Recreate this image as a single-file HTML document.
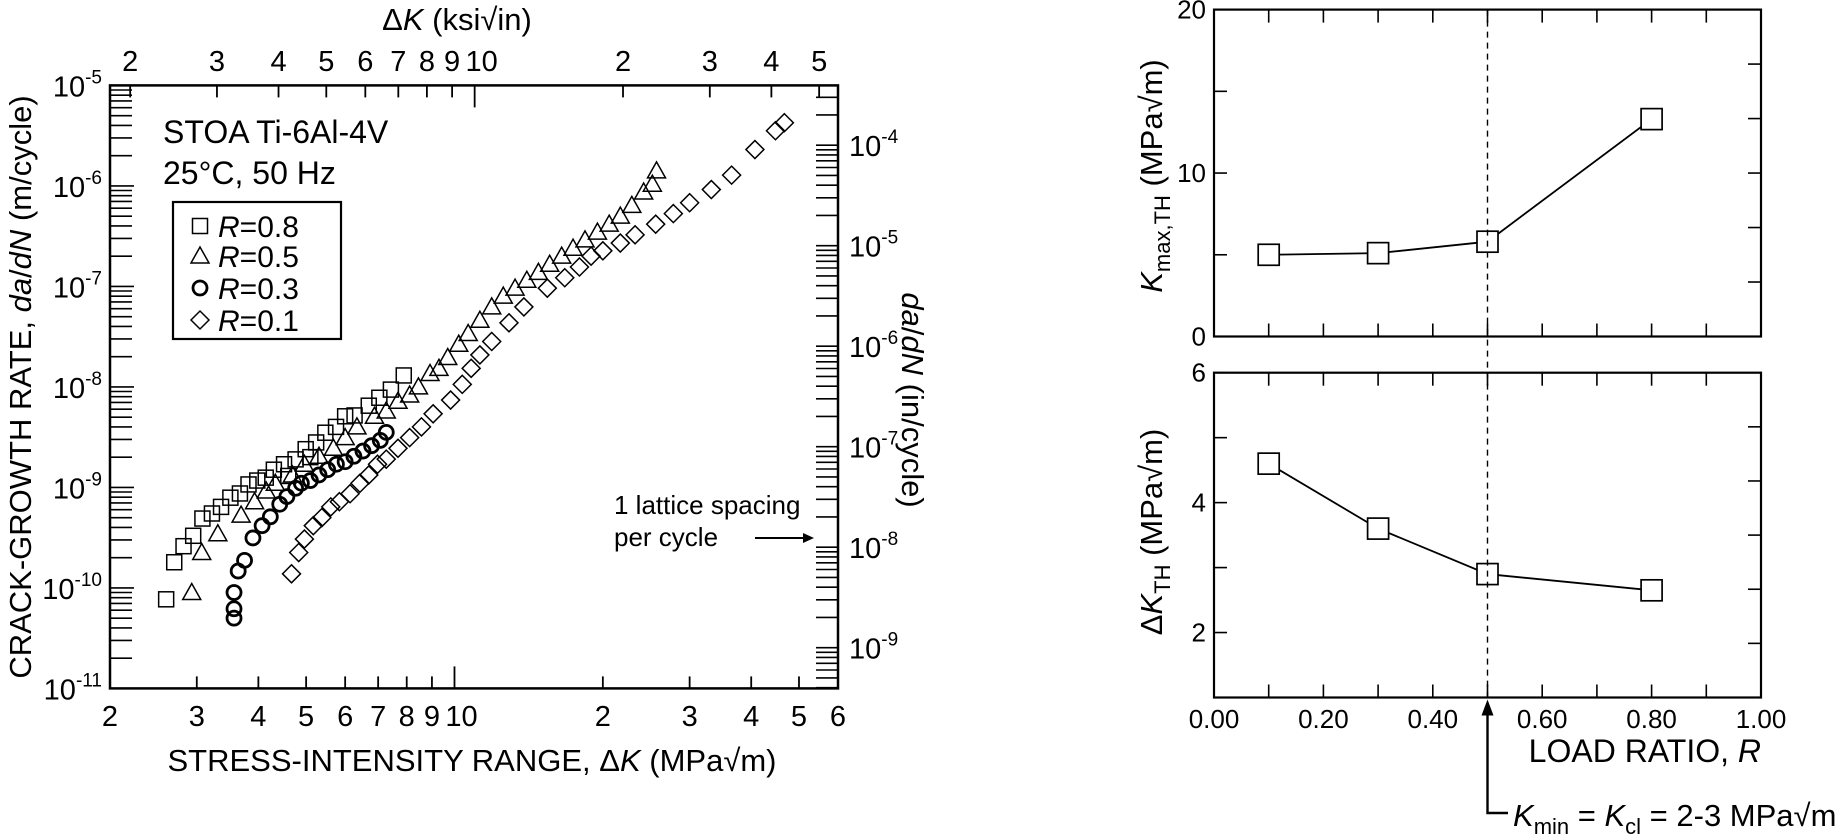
<!DOCTYPE html>
<html><head><meta charset="utf-8"><style>
html,body{margin:0;padding:0;background:#fff;}
svg{display:block;font-family:"Liberation Sans",Arial,sans-serif;}
</style></head><body>
<svg id="fig" width="1836" height="835" viewBox="0 0 1836 835" xmlns="http://www.w3.org/2000/svg"></svg>
<script>
// ---- left chart data (ΔK in MPa√m, da/dN in m/cycle) ----
const sqK=[2.6,2.7,2.82,2.95,3.08,3.22,3.36,3.51,3.67,3.82,3.98,4.14,4.3,4.51,4.6,4.76,4.99,5.1,5.24,5.47,5.75,6.0,6.27,6.7,7.04,7.43,7.89];
const sqDa=[7.7e-11,1.8e-10,2.6e-10,3.3e-10,4.9e-10,5.5e-10,6.4e-10,7.9e-10,8.7e-10,1.07e-9,1.17e-9,1.25e-9,1.5e-9,1.7e-9,1.3e-9,1.9e-9,2.4e-9,2.0e-9,2.8e-9,3.5e-9,4.0e-9,5.1e-9,5.2e-9,6.5e-9,7.8e-9,9.4e-9,1.3e-8];
const triK=[2.93,3.07,3.31,3.69,3.93,4.15,4.33,4.69,4.96,5.31,5.68,6.0,6.34,6.88,7.27,7.68,8.11,8.45,8.92,9.3,9.69,10.2,10.66,11.26,11.9,12.56,13.27,14.02,14.8,15.6,16.5,17.4,18.4,19.5,20.6,21.7,22.9,24.2,25.2,25.7];
const triDa=[9.0e-11,2.25e-10,3.46e-10,5.3e-10,7.2e-10,9.2e-10,1.1e-9,1.33e-9,1.7e-9,2.04e-9,2.45e-9,3.13e-9,4.0e-9,5.1e-9,5.75e-9,7.2e-9,8.3e-9,1.0e-8,1.36e-8,1.53e-8,1.96e-8,2.66e-8,3.4e-8,4.6e-8,6.25e-8,8.0e-8,9.6e-8,1.15e-7,1.38e-7,1.66e-7,2.0e-7,2.4e-7,2.9e-7,3.47e-7,4.16e-7,5.0e-7,6.4e-7,8.7e-7,1.04e-6,1.41e-6];
const ciK=[3.57,3.57,3.57,3.64,3.75,3.9,4.07,4.23,4.42,4.57,4.76,4.89,5.1,5.31,5.53,5.76,6.0,6.25,6.52,6.79,7.07,7.27];
const ciDa=[5.0e-11,6.2e-11,9.0e-11,1.47e-10,1.88e-10,3.14e-10,4.16e-10,5.1e-10,6.8e-10,8.1e-10,9.8e-10,1.1e-9,1.17e-9,1.33e-9,1.5e-9,1.7e-9,1.8e-9,2.04e-9,2.3e-9,2.6e-9,2.94e-9,3.53e-9];
const diK=[4.67,4.83,4.96,5.17,5.38,5.61,5.84,6.14,6.43,6.7,6.98,7.27,7.68,8.11,8.57,9.05,9.82,10.37,10.81,11.26,11.9,12.9,13.83,15.43,16.74,17.93,18.93,20.0,21.7,23.25,25.6,27.8,30.0,33.2,36.5,40.7,44.8,46.7];
const diDa=[1.38e-10,2.25e-10,3.06e-10,4.16e-10,5.0e-10,6.4e-10,7.2e-10,8.65e-10,1.1e-9,1.33e-9,1.7e-9,1.91e-9,2.45e-9,3.13e-9,4.0e-9,5.4e-9,7.4e-9,1.06e-8,1.53e-8,2.08e-8,2.83e-8,4.34e-8,6.25e-8,9.6e-8,1.22e-7,1.56e-7,2.0e-7,2.26e-7,2.7e-7,3.26e-7,4.16e-7,5.3e-7,6.8e-7,9.2e-7,1.28e-6,2.3e-6,3.54e-6,4.25e-6];
const bottomTickVals=[2,3,4,5,6,7,8,9,10,20,30,40,50,60];
const bottomTickLabels=["2","3","4","5","6","7","8","9","10","2","3","4","5","6"];
const topTickVals=[2,3,4,5,6,7,8,9,10,20,30,40,50];
const topTickLabels=["2","3","4","5","6","7","8","9","10","2","3","4","5"];
const leftExps=[-5,-6,-7,-8,-9,-10,-11];
const rightExps=[-4,-5,-6,-7,-8,-9];
// ---- right charts data ----
const loadR=[0.1,0.3,0.5,0.8];
const kmaxTH=[5.0,5.1,5.8,13.3];
const dkTH=[4.6,3.6,2.9,2.65];
const rTickLabels=["0.00","0.20","0.40","0.60","0.80","1.00"];
const rTickVals=[0,0.2,0.4,0.6,0.8,1.0];

const NS="http://www.w3.org/2000/svg";
const svg=document.getElementById('fig');
function mk(tag,attrs,parent){const e=document.createElementNS(NS,tag);for(const k in attrs)e.setAttribute(k,attrs[k]);(parent||svg).appendChild(e);return e;}

const LX0=110,LX1=838,LY0=85.4,LY1=688.4;
const lg=Math.log10;
function xL(k){return LX0+(lg(k)-lg(2))/(lg(60)-lg(2))*(LX1-LX0);}
function yL(d){return LY0+(-5-lg(d))*(LY1-LY0)/6;}
const KSI=1.0988, INM=0.0254;

const gL=mk('g',{});


let fr=mk('rect',{x:LX0,y:LY0,width:LX1-LX0,height:LY1-LY0,fill:'none',stroke:'#000','stroke-width':2.5},gL);



for(let e=-11;e<-5;e++){for(let m=1;m<10;m++){const y=yL(m*Math.pow(10,e));const t=mk('line',{x1:LX0,x2:LX0+(m===1?24:22),y1:y,y2:y,stroke:'#000','stroke-width':1.6},gL);

}}
leftExps.forEach(e=>{const t=mk('text',{x:102,y:yL(Math.pow(10,e))+11,'text-anchor':'end','font-size':29},gL);


t.appendChild(document.createTextNode('10'));const s=mk('tspan',{dy:-13,'font-size':19},t);s.textContent=String(e);});
for(let e=-10;e<-3;e++){for(let m=1;m<10;m++){const v=m*Math.pow(10,e)*INM;if(v>1e-5||v<1e-11)continue;const y=yL(v);const t=mk('line',{x1:LX1-22,x2:LX1,y1:y,y2:y,stroke:'#000','stroke-width':1.6},gL);

}}
rightExps.forEach(e=>{const t=mk('text',{x:849,y:yL(Math.pow(10,e)*INM)+11,'font-size':29},gL);


t.appendChild(document.createTextNode('10'));const s=mk('tspan',{dy:-13,'font-size':19},t);s.textContent=String(e);});
bottomTickVals.forEach((v,i)=>{const x=xL(v);const len=(v===10)?22:12;const t=mk('line',{x1:x,x2:x,y1:LY1,y2:LY1-len,stroke:'#000','stroke-width':1.8},gL);


const l=mk('text',{x:x+(v===10?7:0),y:726,'text-anchor':'middle','font-size':29},gL);


l.textContent=bottomTickLabels[i];});
topTickVals.forEach((v,i)=>{const x=xL(v*KSI);const len=(v===10)?22:12;const t=mk('line',{x1:x,x2:x,y1:LY0,y2:LY0+len,stroke:'#000','stroke-width':1.8},gL);


const l=mk('text',{x:x+(v===10?7:0),y:71,'text-anchor':'middle','font-size':29},gL);


l.textContent=topTickLabels[i];});

let tt=mk('text',{x:457,y:30,'text-anchor':'middle','font-size':31},gL);


tt.innerHTML='Δ<tspan font-style="italic">K</tspan> (ksi√in)';
let bt=mk('text',{x:472,y:771,'text-anchor':'middle','font-size':31},gL);


bt.innerHTML='STRESS-INTENSITY RANGE, Δ<tspan font-style="italic">K</tspan> (MPa√m)';
let lt=mk('text',{x:0,y:0,'text-anchor':'middle','font-size':31,transform:'translate(31,387) rotate(-90)'},gL);


lt.innerHTML='CRACK-GROWTH RATE, <tspan font-style="italic">da</tspan>/<tspan font-style="italic">dN</tspan> (m/cycle)';
let rt=mk('text',{x:0,y:0,'text-anchor':'middle','font-size':31,transform:'translate(902,400) rotate(90)'},gL);


rt.innerHTML='<tspan font-style="italic">da</tspan>/<tspan font-style="italic">dN</tspan> (in/cycle)';
let a1=mk('text',{x:163,y:143,'font-size':32},gL);


a1.textContent='STOA Ti-6Al-4V';
let a2=mk('text',{x:163,y:184,'font-size':32},gL);


a2.textContent='25°C, 50 Hz';
let la=mk('text',{x:614,y:514,'font-size':26},gL);


la.textContent='1 lattice spacing';
let lb=mk('text',{x:614,y:546,'font-size':26},gL);


lb.textContent='per cycle';
let ar=mk('line',{x1:755,x2:806,y1:538,y2:538,stroke:'#000','stroke-width':2},gL);


let ah=mk('polygon',{points:'814,538 803,533 803,543',fill:'#000'},gL);



function marker(kind,cx,cy,g){let e;const s=7.5;
if(kind==='sq')e=mk('rect',{x:cx-s,y:cy-s,width:2*s,height:2*s,fill:'none',stroke:'#000','stroke-width':1.5},g);
else if(kind==='tri')e=mk('polygon',{points:`${cx},${cy-9} ${cx-9},${cy+7} ${cx+9},${cy+7}`,fill:'none',stroke:'#000','stroke-width':1.5},g);
else if(kind==='ci')e=mk('circle',{cx:cx,cy:cy,r:7,fill:'none',stroke:'#000','stroke-width':2.8},g);
else e=mk('polygon',{points:`${cx},${cy-9} ${cx+9},${cy} ${cx},${cy+9} ${cx-9},${cy}`,fill:'none',stroke:'#000','stroke-width':1.5},g);
return e;}
function series(kind,K,D,name){const g=mk('g',{},gL);


K.forEach((k,i)=>{const e=marker(kind,xL(k),yL(D[i]),g);

});}
series('di',diK,diDa,'series-r-0-1');
series('tri',triK,triDa,'series-r-0-5');
series('sq',sqK,sqDa,'series-r-0-8');
series('ci',ciK,ciDa,'series-r-0-3');

const lgG=mk('g',{},gL);


mk('rect',{x:173,y:202,width:168,height:137,fill:'#fff',stroke:'#000','stroke-width':2.2},lgG);
const legKinds=['sq','tri','ci','di'];const legTxt=['0.8','0.5','0.3','0.1'];const legY=[226,256,288,320];
legKinds.forEach((k,i)=>{const m=marker(k,200,legY[i],lgG);


const t=mk('text',{x:218,y:legY[i]+11,'font-size':30},lgG);


t.innerHTML='<tspan font-style="italic">R</tspan>='+legTxt[i];});

const RX0=1214,RX1=1761;
function xR(r){return RX0+r*(RX1-RX0);}
const T0=9.6,T1=336.5,B0=372.7,B1=697.5;
function yT(v){return T1-v/20*(T1-T0);}
function yB(v){return B1-(v-1)/5*(B1-B0);}
function panel(y0,y1,name){const g=mk('g',{});


mk('rect',{x:RX0,y:y0,width:RX1-RX0,height:y1-y0,fill:'none',stroke:'#000','stroke-width':2.2},g);
for(let i=1;i<10;i++){const x=xR(i/10);mk('line',{x1:x,x2:x,y1:y1,y2:y1-13,stroke:'#000','stroke-width':1.6},g);mk('line',{x1:x,x2:x,y1:y0,y2:y0+13,stroke:'#000','stroke-width':1.6},g);}
for(let i=1;i<6;i++){const y=y1-i*(y1-y0)/6;mk('line',{x1:RX1,x2:RX1-13,y1:y,y2:y,stroke:'#000','stroke-width':1.6},g);}
return g;}
const gT=panel(T0,T1,'kmax-threshold-chart');
const gB=panel(B0,B1,'delta-k-threshold-chart');
[0,5,10,15,20].forEach(v=>{const y=yT(v);const t=mk('line',{x1:RX0,x2:RX0+13,y1:y,y2:y,stroke:'#000','stroke-width':1.6},gT);


if(v%10===0){const l=mk('text',{x:1206,y:y+9,'text-anchor':'end','font-size':26},gT);


l.textContent=String(v);}});
[2,3,4,5,6].forEach(v=>{const y=yB(v);const t=mk('line',{x1:RX0,x2:RX0+13,y1:y,y2:y,stroke:'#000','stroke-width':1.6},gB);


if(v%2===0){const l=mk('text',{x:1206,y:y+9,'text-anchor':'end','font-size':26},gB);


l.textContent=String(v);}});
rTickVals.forEach((v,i)=>{const l=mk('text',{x:xR(v),y:728,'text-anchor':'middle','font-size':26},gB);


l.textContent=rTickLabels[i];});
let xt=mk('text',{x:1761,y:762,'text-anchor':'end','font-size':32},gB);


xt.innerHTML='LOAD RATIO, <tspan font-style="italic">R</tspan>';
let ty=mk('text',{x:0,y:0,'text-anchor':'middle','font-size':31,transform:'translate(1162,176) rotate(-90)'},gT);


ty.innerHTML='<tspan font-style="italic">K</tspan><tspan font-size="22" dy="8">max,TH</tspan><tspan dy="-8"> (MPa√m)</tspan>';
let by=mk('text',{x:0,y:0,'text-anchor':'middle','font-size':31,transform:'translate(1162,532) rotate(-90)'},gB);


by.innerHTML='Δ<tspan font-style="italic">K</tspan><tspan font-size="22" dy="8">TH</tspan><tspan dy="-8"> (MPa√m)</tspan>';
function lineSeries(g,vals,yf,name){const pts=loadR.map((r,i)=>xR(r)+','+yf(vals[i])).join(' ');
const pl=mk('polyline',{points:pts,fill:'none',stroke:'#000','stroke-width':1.8},g);


loadR.forEach((r,i)=>{const e=mk('rect',{x:xR(r)-10.5,y:yf(vals[i])-10.5,width:21,height:21,fill:'#fff',stroke:'#000','stroke-width':1.7},g);

});}
lineSeries(gT,kmaxTH,yT,'kmax-th');
lineSeries(gB,dkTH,yB,'dk-th');
let dl=mk('line',{x1:xR(0.5),x2:xR(0.5),y1:T0,y2:B1,stroke:'#000','stroke-width':1.4,'stroke-dasharray':'6,5'});


let ka=mk('polyline',{points:`${xR(0.5)},${B1+14} ${xR(0.5)},813 1508,813`,fill:'none',stroke:'#000','stroke-width':2.4});


let kh=mk('polygon',{points:`${xR(0.5)},${B1+2} ${xR(0.5)-6},${B1+18} ${xR(0.5)+6},${B1+18}`,fill:'#000'});


let kl=mk('text',{x:1513,y:826,'font-size':31});


kl.innerHTML='<tspan font-style="italic">K</tspan><tspan font-size="22" dy="8">min</tspan><tspan dy="-8"> = </tspan><tspan font-style="italic">K</tspan><tspan font-size="22" dy="8">cl</tspan><tspan dy="-8"> = 2-3 MPa√m</tspan>';
</script>
</body></html>
